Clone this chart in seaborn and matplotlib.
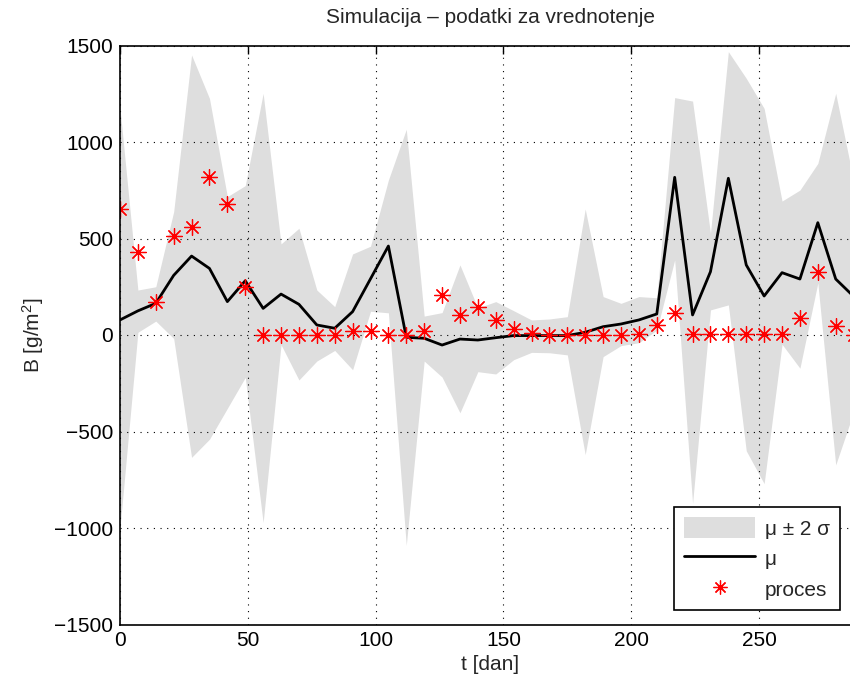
import numpy as np
import pandas as pd
import matplotlib
matplotlib.use('Agg')
import matplotlib.pyplot as plt
from matplotlib.patches import Patch
from matplotlib.lines import Line2D
import seaborn as sns

# days of simulation (weekly samples)
t_dan = [0, 7, 14, 21, 28, 35, 42, 49, 56, 63, 70, 77, 84, 91, 98, 105, 112,
         119, 126, 133, 140, 147, 154, 161, 168, 175, 182, 189, 196, 203, 210,
         217, 224, 231, 238, 245, 252, 259, 266, 273, 280, 287]

# mean of simulation (mu)
mu = [78, 125, 164, 309, 409, 345, 173, 281, 138, 212, 159, 52, 35, 121, 291,
      461, -12, -17, -52, -21, -26, -14, -3, -3, -3, -3, 14, 43, 57, 78, 109,
      817, 104, 328, 812, 363, 202, 323, 290, 582, 290, 200]

# upper band (mu + 2 sigma)
upper = [1175, 233, 250, 639, 1451, 1226, 717, 774, 1252, 472, 553, 233, 147,
         420, 460, 803, 1066, 98, 116, 363, 140, 173, 126, 78, 83, 95, 653,
         199, 164, 199, 193, 1230, 1212, 527, 1468, 1330, 1174, 694, 751, 889,
         1252, 800]

# lower band (mu - 2 sigma)
lower = [-1000, 14, 72, -18, -634, -540, -380, -220, -972, -50, -233, -135,
         -80, -180, 123, 115, -1090, -135, -218, -403, -190, -202, -128, -90,
         -92, -103, -620, -112, -55, -40, 25, 389, -872, 130, 156, -600, -770,
         -48, -172, 270, -673, -400]

# measured process
proces = [651, 430, 173, 513, 558, 820, 677, 247, 0, 0, 0, 0, 0, 21, 23, 0, 0,
          21, 207, 102, 147, 78, 30, 9, 0, 0, 0, 0, 0, 5, 52, 116, 5, 3, 3, 5,
          3, 3, 86, 328, 47, 0]

df = pd.DataFrame({'t': t_dan, 'mu': mu, 'upper': upper, 'lower': lower,
                   'proces': proces})

sns.set_style("white")
plt.rcParams['font.family'] = ['Liberation Sans', 'DejaVu Sans']
plt.rcParams['mathtext.fontset'] = 'custom'
plt.rcParams['mathtext.rm'] = 'Liberation Sans'
plt.rcParams['mathtext.it'] = 'Liberation Sans'

FS = 15
BAND = '#dedede'
fig = plt.figure(figsize=(8.5, 6.85), dpi=100)
# axes run past the right edge of the figure, as in the cropped original
ax = fig.add_axes([120 / 850, 1 - 624.5 / 685, 740 / 850, 579 / 685])

ax.fill_between(df['t'], df['lower'], df['upper'], color=BAND,
                linewidth=0, zorder=1)
sns.lineplot(data=df, x='t', y='mu', color='black', linewidth=2, ax=ax,
             zorder=3)
sns.scatterplot(data=df, x='t', y='proces', marker=(8, 2, 0), color='red',
                s=130, linewidth=0.9, ax=ax, zorder=4)

ax.set_xlim(0, 289.5)
ax.set_ylim(-1500, 1500)
ax.set_xticks([0, 50, 100, 150, 200, 250])
ax.set_yticks([-1500, -1000, -500, 0, 500, 1000, 1500])
ax.set_yticklabels(['\u22121500', '\u22121000', '\u2212500', '0', '500',
                    '1000', '1500'])

ax.grid(True, color='black', linestyle=(0, (1, 5)), linewidth=0.8)
ax.set_axisbelow(False)
for sp in ax.spines.values():
    sp.set_linewidth(1.2)
    sp.set_color('black')
    sp.set_zorder(5)
ax.tick_params(direction='in', top=True, right=True, length=6, width=1,
               labelsize=FS, colors='black', pad=5)

ax.set_title('Simulacija \u2013 podatki za vrednotenje', fontsize=FS, pad=16)
ax.set_xlabel('t [dan]', fontsize=FS, labelpad=3)
ax.set_ylabel('B [g/m$^2$]', fontsize=FS, labelpad=6)

handles = [
    Patch(facecolor=BAND, edgecolor='none', label='\u03bc \u00b1 2 \u03c3'),
    Line2D([], [], color='black', linewidth=2, label='\u03bc'),
    Line2D([], [], color='red', marker=(8, 2, 0), linestyle='none',
           markersize=10, markeredgewidth=0.9, label='proces'),
]
leg = ax.legend(handles=handles, loc='lower right', fontsize=FS,
                bbox_to_anchor=(840 / 850, 1 - 610 / 685),
                bbox_transform=fig.transFigure, frameon=True, fancybox=False,
                handlelength=3.4, handleheight=1.2, handletextpad=0.45,
                borderpad=0.5, borderaxespad=0, labelspacing=0.42)
leg.get_frame().set_edgecolor('black')
leg.get_frame().set_linewidth(1.2)
leg.get_frame().set_alpha(1)
leg.set_zorder(10)

fig.savefig('out.png', dpi=100)
